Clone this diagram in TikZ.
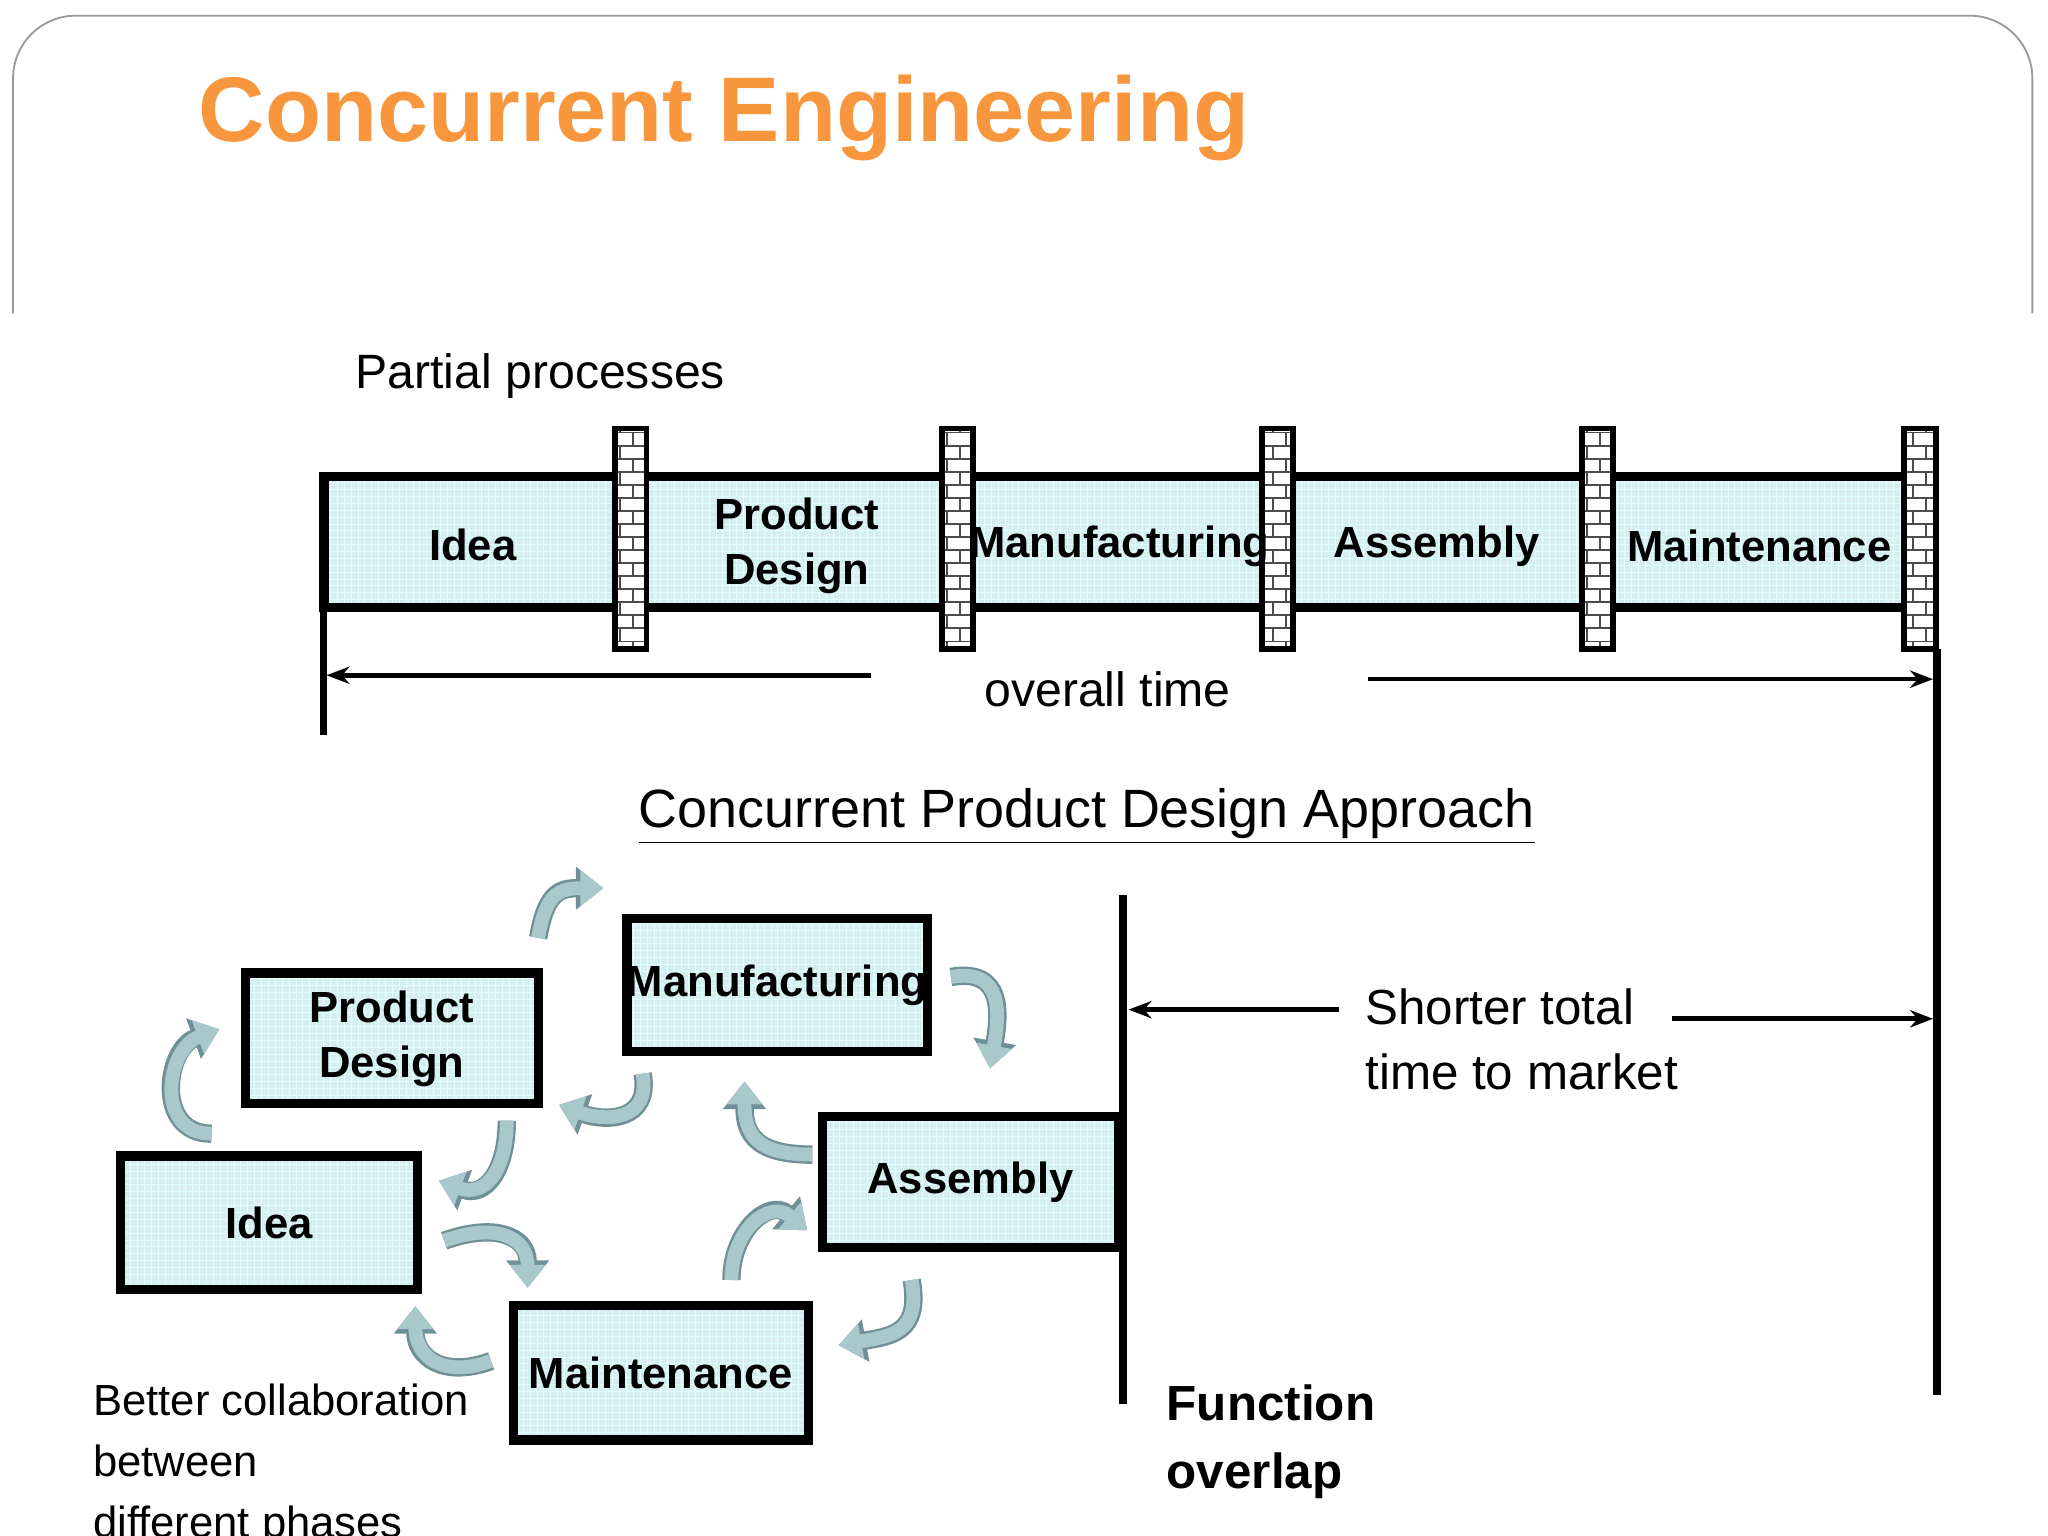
\documentclass[tikz,border=0pt]{standalone}
\usepackage{fontspec}
\setmainfont{Liberation Sans}
\usetikzlibrary{patterns,arrows.meta}
\definecolor{orng}{HTML}{F7963C}
\definecolor{boxc}{HTML}{D6EEF0}
\definecolor{arc}{HTML}{A9C8CC}
\definecolor{arcd}{HTML}{6F9096}
\begin{document}
\begin{tikzpicture}[x=0.02cm,y=-0.02cm,
 fs/.style={font=\fontsize{#1}{#1}\selectfont},
 bx/.style={draw=black,line width=4pt,fill=boxc,preaction={fill=boxc},pattern=grid,pattern color=white!60!cyan!30,inner sep=0},
 lbl/.style={font=\bfseries\fontsize{19}{24}\selectfont,align=center},
 pil/.style={draw=black,line width=2.5pt,fill=white,preaction={fill=white},pattern=bricks,pattern color=black!70},
 curv/.style={line width=6pt,arc,preaction={draw=arcd,line width=8pt,-{Triangle[width=18pt,length=12pt]}},-{Triangle[width=15pt,length=10pt]}},
 ln/.style={line width=3pt}]
\useasboundingbox (0,0) rectangle (1568,1176);
\clip (0,0) rectangle (1568,1176);
\draw[gray!80,line width=0.8pt] (10,240) -- (10,60) arc[start angle=180,end angle=270,radius=48] -- (1508,12) arc[start angle=270,end angle=360,radius=48] -- (1556,240);
\node[anchor=west,text=orng,font=\bfseries\fontsize{40}{44}\selectfont] (title) at (146,90) {Concurrent Engineering};
\node[anchor=west,fs=21] (pp) at (266,288) {Partial processes};
% top bar
\draw[bx] (248,365) rectangle (1480,465);
\foreach \x in {483,733,978,1223,1470} \draw[pil] (\x-12,328) rectangle (\x+12,497);
\node[lbl] (t1) at (362,417) {Idea};
\node[lbl] (t2) at (610,418) {Product\\Design};
\node[lbl] (t3) at (857,418) {Manufacturing};
\node[lbl] (t4) at (1100,418) {Assembly};
\node[lbl] (t5) at (1347,418) {Maintenance};
\draw[ln] (248,465) -- (248,563);
\coordinate (oL) at (250,517); \coordinate (oLe) at (667,517);
\coordinate (oR) at (1480,520); \coordinate (oRs) at (1047,520);
\draw[line width=2pt,-{Stealth[length=10pt]}] (oLe) -- (oL);
\draw[line width=2pt,-{Stealth[length=10pt]}] (oRs) -- (oR);
\node[fs=21] (ot) at (848,528) {overall time};
\draw[line width=3.5pt] (1483,497) -- (1483,1068);
\node[fs=23.5] (cpa) at (832,625) {\underline{Concurrent Product Design Approach}};
% boxes
\node[bx,minimum width=224*0.02cm,minimum height=100*0.02cm,lbl] (pd) at (300,795) {Product\\Design};
\node[bx,minimum width=226*0.02cm,minimum height=102*0.02cm,lbl] (mf) at (595,754) {Manufacturing};
\node[bx,minimum width=227*0.02cm,minimum height=102*0.02cm,lbl] (id) at (206,936) {Idea};
\node[bx,minimum width=227*0.02cm,minimum height=100*0.02cm,lbl] (as) at (743,905) {Assembly};
\node[bx,minimum width=226*0.02cm,minimum height=103*0.02cm,lbl] (mt) at (506,1051) {Maintenance};
\draw[line width=3.5pt] (860,685) -- (860,1075);
\coordinate (sL) at (864,773); \coordinate (sLe) at (1025,773);
\coordinate (sR) at (1480,780); \coordinate (sRs) at (1280,780);
\draw[line width=2pt,-{Stealth[length=10pt]}] (sLe) -- (sL);
\draw[line width=2pt,-{Stealth[length=10pt]}] (sRs) -- (sR);
\node[anchor=north west,align=left,inner sep=0,font=\fontsize{21.5}{28}\selectfont] (st) at (1045,757) {Shorter total\\time to market};
\node[anchor=north west,align=left,inner sep=0,font=\bfseries\fontsize{21.5}{29.5}\selectfont] (fo) at (893,1060) {Function\\overlap};
\node[anchor=north west,align=left,inner sep=0,font=\fontsize{19}{26.7}\selectfont] (bc) at (71,1059) {Better collaboration\\between\\different phases};
% curved arrows
\draw[curv] (412,718) to[out=-100+180,in=180,looseness=1.4] (462,680);
\draw[curv] (728,748) to[out=10,in=80,looseness=1.4] (758,818);
\draw[curv] (162,868) to[out=180,in=200,looseness=1.4] (168,788);
\draw[curv] (492,822) to[out=-80,in=-20,looseness=1.4] (428,846);
\draw[curv] (388,858) to[out=-90,in=-20,looseness=1.4] (336,904);
\draw[curv] (622,884) to[out=180,in=-90,looseness=1.4] (570,828);
\draw[curv] (340,950) to[out=20,in=90,looseness=1.4] (404,986);
\draw[curv] (560,980) to[out=90,in=140,looseness=1.4] (618,942);
\draw[curv] (376,1042) to[out=200,in=-90,looseness=1.4] (318,1000);
\draw[curv] (698,980) to[out=-80,in=10,looseness=1.4] (642,1030);
\end{tikzpicture}
\end{document}
